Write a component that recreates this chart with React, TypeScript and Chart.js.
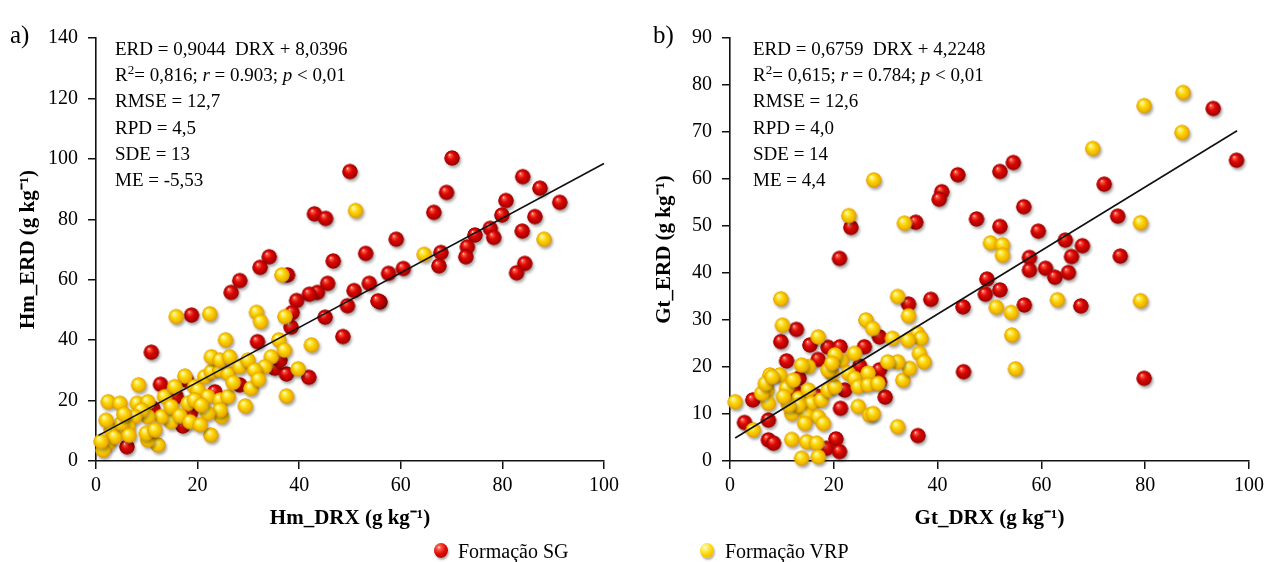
import React, { useEffect, useRef } from 'react';
import { Chart, registerables } from 'chart.js';

Chart.register(...registerables);

const FONT = '"Liberation Serif", "Times New Roman", serif';

// ---------- data ----------
const seriesNames = ['Formação SG', 'Formação VRP'];

// panel a) Hm_DRX (x) vs Hm_ERD (y)
const hmSG: [number, number][] = [
  [84.0, 94.1], [87.4, 90.3], [80.7, 86.2], [91.3, 85.6], [79.9, 81.4], [86.4, 80.9],
  [77.6, 77.0], [78.3, 74.0], [74.6, 74.8], [83.9, 76.1], [84.4, 65.4], [82.8, 62.3],
  [70.1, 100.3], [69.0, 88.9], [66.5, 82.3], [59.1, 73.4], [73.1, 70.9], [72.8, 67.6],
  [67.9, 69.0], [67.5, 64.6], [60.5, 63.7], [57.6, 62.1], [55.9, 52.7], [50.0, 95.8],
  [43.0, 81.8], [45.2, 80.3], [53.1, 68.7], [46.7, 66.2], [34.1, 67.6], [32.3, 64.1],
  [28.3, 59.7], [26.6, 55.8], [37.7, 61.6], [53.8, 58.8], [50.8, 56.4], [55.5, 53.0],
  [49.5, 51.4], [45.6, 58.8], [43.6, 55.8], [42.0, 55.2], [39.5, 53.1], [38.6, 49.1],
  [45.1, 47.6], [18.8, 48.3], [10.9, 36.0], [38.4, 44.3], [48.6, 41.2], [31.8, 39.5],
  [35.2, 30.7], [37.5, 28.8], [41.9, 27.7], [36.2, 33.4], [12.7, 25.4], [18.6, 16.0],
  [17.1, 11.6], [6.1, 4.7], [23.4, 22.9], [28.3, 25.2], [17.8, 26.8], [11.2, 17.4],
  [15.8, 21.3],
];
const hmVRP: [number, number][] = [
  [104.8, 85.1], [105.9, 86.1], [88.2, 73.4], [64.6, 68.4], [51.1, 82.9], [36.6, 61.6],
  [22.4, 48.7], [31.6, 49.2], [37.2, 47.8], [15.8, 47.8], [32.4, 46.1], [36.0, 40.1],
  [42.4, 38.4], [25.5, 40.1], [39.8, 30.5], [37.5, 21.5], [34.5, 34.5], [33.2, 31.2],
  [37.1, 36.7], [29.4, 18.2], [22.6, 8.6], [12.2, 5.3], [8.4, 25.2], [17.5, 28.1],
  [2.4, 19.6], [4.7, 19.1], [8.1, 19.1], [10.2, 19.6], [13.5, 21.3], [15.5, 24.6],
  [19.4, 24.6], [21.4, 27.9], [22.7, 29.6], [24.4, 30.1], [26.0, 29.0], [22.7, 34.5],
  [24.4, 33.4], [26.3, 34.5], [28.3, 31.2], [29.9, 33.4], [31.2, 30.1], [20.1, 23.5],
  [22.0, 21.3], [24.4, 20.2], [26.0, 21.3], [24.7, 14.7], [24.4, 16.9], [22.0, 15.8],
  [14.8, 13.0], [12.9, 14.7], [10.2, 14.7], [8.9, 16.9], [7.6, 14.7], [6.3, 11.4],
  [3.0, 10.3], [2.4, 5.9], [1.4, 3.6], [3.7, 8.0], [5.0, 12.5], [10.2, 7.0],
  [9.9, 9.2], [11.6, 10.3], [14.8, 18.0], [18.1, 19.1], [19.4, 20.2], [20.7, 18.5],
  [1.0, 6.5], [5.5, 15.5], [16.5, 15.0], [18.5, 13.0], [20.5, 12.0], [27.0, 26.0],
  [30.5, 24.0], [32.0, 27.0], [2.0, 13.5], [6.5, 8.5],
];

// panel b) Gt_DRX (x) vs Gt_ERD (y)
const gtSG: [number, number][] = [
  [93.1, 75.0], [97.6, 64.0], [72.1, 58.9], [56.6, 54.1], [74.7, 52.1], [59.4, 48.9],
  [64.6, 47.0], [67.9, 45.8], [65.8, 43.5], [57.7, 43.3], [57.7, 40.6], [75.2, 43.6],
  [60.8, 41.0], [62.6, 39.1], [65.2, 40.1], [67.6, 33.0], [56.7, 33.2], [79.8, 17.6],
  [43.9, 60.9], [54.6, 63.5], [52.0, 61.6], [40.8, 57.3], [40.3, 55.7], [23.3, 49.7],
  [35.8, 50.8], [47.5, 51.5], [52.0, 49.9], [21.1, 43.1], [49.5, 38.7], [49.2, 35.5],
  [52.0, 36.4], [44.9, 32.8], [38.7, 34.4], [34.4, 33.4], [28.8, 26.4], [12.8, 28.0],
  [9.8, 25.4], [15.4, 24.7], [18.9, 24.2], [21.2, 24.3], [25.9, 24.3], [10.9, 21.3],
  [17.0, 21.6], [13.3, 17.6], [16.9, 13.8], [12.5, 14.7], [22.1, 15.1], [25.0, 20.2],
  [28.8, 19.4], [28.8, 16.9], [29.9, 13.6], [21.3, 11.2], [4.4, 13.0], [2.8, 8.2],
  [7.4, 8.7], [7.4, 4.5], [8.4, 3.8], [20.4, 4.7], [18.6, 2.7], [21.1, 2.0],
  [36.2, 5.4], [45.0, 19.0],
];
const gtVRP: [number, number][] = [
  [87.3, 78.4], [79.8, 75.6], [87.1, 69.9], [69.9, 66.5], [79.1, 50.7], [63.1, 34.3],
  [79.1, 34.1], [27.7, 59.8], [22.9, 52.2], [33.6, 50.6], [50.2, 46.4], [52.5, 46.0],
  [52.5, 43.8], [51.3, 32.7], [54.2, 31.6], [32.3, 35.0], [34.4, 30.9], [26.2, 30.0],
  [27.5, 28.2], [54.3, 26.8], [36.1, 27.2], [36.8, 26.1], [31.3, 26.1], [9.8, 34.5],
  [10.1, 28.9], [17.0, 26.4], [34.3, 25.7], [36.5, 22.9], [37.4, 21.1], [33.3, 17.2],
  [34.6, 19.7], [32.3, 21.1], [30.4, 21.1], [15.1, 20.1], [13.8, 20.4], [7.7, 18.3],
  [9.6, 18.3], [7.1, 15.1], [24.7, 11.6], [26.9, 9.8], [27.6, 10.1], [1.0, 12.6],
  [4.5, 6.6], [11.9, 4.6], [14.8, 4.1], [16.7, 3.8], [13.8, 0.6], [17.0, 0.9],
  [32.3, 7.3], [10.9, 15.5], [12.2, 17.2], [13.2, 13.3], [15.1, 15.1], [15.7, 12.3],
  [17.6, 13.0], [18.9, 15.1], [20.2, 15.8], [19.6, 18.7], [18.9, 19.4], [21.5, 21.5],
  [22.8, 18.7], [24.0, 17.6], [24.7, 15.8], [26.6, 18.7], [26.6, 16.2], [28.5, 16.5],
  [11.9, 10.1], [14.8, 9.8], [17.0, 9.4], [18.0, 8.0], [14.4, 8.0], [13.2, 11.9],
  [11.3, 11.9], [10.3, 13.7], [7.4, 12.3], [6.1, 14.4], [6.8, 16.5], [8.1, 17.9],
  [24.0, 22.9], [20.2, 22.6], [19.6, 20.8], [55.0, 19.6],
];

// fitted lines (from the equations printed on the chart) and their x extent
const hmFit = [0.9044, 8.0396];
const hmFitX = [0.5, 100];
const gtFit = [0.6759, 4.2248];
const gtFitX = [1.0, 97.7];

// axis ranges / tick steps
const hmXTicks = [0, 100, 20];
const hmYTicks = [0, 140, 20];
const gtXTicks = [0, 100, 20];
const gtYTicks = [0, 90, 10];

const hmTitles = ['Hm_DRX (g kg⁻¹)', 'Hm_ERD (g kg⁻¹)'];
const gtTitles = ['Gt_DRX (g kg⁻¹)', 'Gt_ERD (g kg⁻¹)'];

type Seg = { t: string; i?: boolean; sup?: boolean };
const hmNotes: Seg[][] = [
  [{ t: 'ERD = 0,9044  DRX + 8,0396' }],
  [{ t: 'R' }, { t: '2', sup: true }, { t: '= 0,816; ' }, { t: 'r', i: true }, { t: ' = 0.903; ' }, { t: 'p', i: true }, { t: ' < 0,01' }],
  [{ t: 'RMSE = 12,7' }],
  [{ t: 'RPD = 4,5' }],
  [{ t: 'SDE = 13' }],
  [{ t: 'ME = -5,53' }],
];
const gtNotes: Seg[][] = [
  [{ t: 'ERD = 0,6759  DRX + 4,2248' }],
  [{ t: 'R' }, { t: '2', sup: true }, { t: '= 0,615; ' }, { t: 'r', i: true }, { t: ' = 0.784; ' }, { t: 'p', i: true }, { t: ' < 0,01' }],
  [{ t: 'RMSE = 12,6' }],
  [{ t: 'RPD = 4,0' }],
  [{ t: 'SDE = 14' }],
  [{ t: 'ME = 4,4' }],
];

// ---------- sphere sprites ----------
const BALL_STOPS: Record<string, [number, string][]> = {
  red: [[0, '#ffe2dc'], [0.12, '#ff5a48'], [0.45, '#dc0a05'], [0.8, '#b80000'], [1, '#8c0000']],
  yellow: [[0, '#fffbe6'], [0.14, '#fff27a'], [0.5, '#fad400'], [0.82, '#f0b400'], [1, '#d89400']],
};
const spriteCache: Record<string, HTMLCanvasElement> = {};
function ball(kind: 'red' | 'yellow'): HTMLCanvasElement {
  if (spriteCache[kind]) return spriteCache[kind];
  const size = 26;
  const c = document.createElement('canvas');
  c.width = size;
  c.height = size;
  const ctx = c.getContext('2d')!;
  const cx = size / 2;
  const cy = size / 2;
  const r = 7.6;
  ctx.save();
  ctx.shadowColor = 'rgba(0,0,0,0.35)';
  ctx.shadowOffsetX = 1.5;
  ctx.shadowOffsetY = 2.5;
  ctx.shadowBlur = 3;
  ctx.beginPath();
  ctx.arc(cx, cy, r, 0, Math.PI * 2);
  ctx.fillStyle = BALL_STOPS[kind][3][1];
  ctx.fill();
  ctx.restore();
  const g = ctx.createRadialGradient(cx - 2.6, cy - 3.2, 0.3, cx, cy, r);
  BALL_STOPS[kind].forEach(([o, col]) => g.addColorStop(o, col));
  ctx.beginPath();
  ctx.arc(cx, cy, r, 0, Math.PI * 2);
  ctx.fillStyle = g;
  ctx.fill();
  spriteCache[kind] = c;
  return c;
}

// ---------- notes plugin ----------
const notesPlugin = {
  id: 'notes',
  afterDraw(chart: any, _args: any, opts: any) {
    const { ctx, chartArea } = chart;
    ctx.save();
    ctx.fillStyle = '#000';
    ctx.textBaseline = 'middle';
    ctx.textAlign = 'left';
    ctx.font = `25px ${FONT}`;
    ctx.fillText(opts.letter, opts.letterX, opts.letterY);
    (opts.lines as Seg[][]).forEach((line, i) => {
      let x = chartArea.left + opts.dx;
      const y = chartArea.top + opts.dy + i * opts.step;
      for (const seg of line) {
        const size = seg.sup ? 13 : 19;
        ctx.font = `${seg.i ? 'italic ' : ''}${size}px ${FONT}`;
        ctx.fillText(seg.t, x, seg.sup ? y - 6 : y);
        x += ctx.measureText(seg.t).width;
      }
    });
    ctx.restore();
  },
};

type PanelProps = {
  left: number;
  width: number;
  height: number;
  sg: [number, number][];
  vrp: [number, number][];
  fit: number[];
  fitX: number[];
  xTicks: number[];
  yTicks: number[];
  titles: string[];
  notes: Seg[][];
  letter: string;
  letterX: number;
  pad: { left: number; right: number; top: number; bottom: number };
  yWidth: number;
  xHeight: number;
  noteDx: number;
};

function Panel(p: PanelProps) {
  const ref = useRef<HTMLCanvasElement>(null);
  useEffect(() => {
    const axisCommon = (title: string) => ({
      type: 'linear' as const,
      grid: {
        display: true,
        drawOnChartArea: false,
        drawTicks: true,
        tickLength: 8,
        color: '#111',
        lineWidth: 1.5,
      },
      border: { display: true, color: '#111', width: 1.6 },
      ticks: {
        color: '#000',
        font: { family: FONT, size: 20 },
        autoSkip: false,
        maxRotation: 0,
      },
      title: {
        display: true,
        text: title,
        color: '#000',
        font: { family: FONT, size: 21, weight: 'bold' as const },
        padding: 0,
      },
    });
    const xAxis: any = axisCommon(p.titles[0]);
    xAxis.min = p.xTicks[0];
    xAxis.max = p.xTicks[1];
    xAxis.ticks.stepSize = p.xTicks[2];
    xAxis.ticks.padding = 5;
    xAxis.afterFit = (s: any) => {
      s.height = p.xHeight;
    };
    const yAxis: any = axisCommon(p.titles[1]);
    yAxis.min = p.yTicks[0];
    yAxis.max = p.yTicks[1];
    yAxis.ticks.stepSize = p.yTicks[2];
    yAxis.ticks.padding = 10;
    yAxis.afterFit = (s: any) => {
      s.width = p.yWidth;
    };

    const chart = new Chart(ref.current!, {
      type: 'scatter',
      data: {
        datasets: [
          {
            label: 'fit',
            data: p.fitX.map((x) => ({ x, y: p.fit[0] * x + p.fit[1] })),
            showLine: true,
            borderColor: '#111',
            borderWidth: 1.6,
            pointRadius: 0,
            clip: false,
          } as any,
          {
            label: seriesNames[1],
            data: p.vrp.map(([x, y]) => ({ x, y })),
            pointStyle: ball('yellow'),
            pointRadius: 7.5,
            clip: false,
          },
          {
            label: seriesNames[0],
            data: p.sg.map(([x, y]) => ({ x, y })),
            pointStyle: ball('red'),
            pointRadius: 7.5,
            clip: false,
          },
        ],
      },
      options: {
        responsive: false,
        animation: false,
        events: [],
        layout: { padding: p.pad },
        scales: { x: xAxis, y: yAxis },
        plugins: {
          legend: { display: false },
          tooltip: { enabled: false },
          notes: {
            letter: p.letter,
            letterX: p.letterX,
            letterY: 36,
            lines: p.notes,
            dx: p.noteDx,
            dy: 12,
            step: 26.2,
          },
        } as any,
      },
      plugins: [notesPlugin],
    });
    return () => chart.destroy();
  }, []);
  return (
    <canvas
      ref={ref}
      width={p.width}
      height={p.height}
      style={{ position: 'absolute', left: p.left, top: 0, width: p.width, height: p.height }}
    />
  );
}

const legendBall = (kind: 'red' | 'yellow'): React.CSSProperties => ({
  position: 'absolute',
  width: 14,
  height: 15,
  borderRadius: '50%',
  background:
    kind === 'red'
      ? 'radial-gradient(circle at 36% 30%, #ffe2dc 0%, #ff5a48 14%, #dc0a05 48%, #b80000 80%, #8c0000 100%)'
      : 'radial-gradient(circle at 36% 30%, #fffbe6 0%, #fff27a 16%, #fad400 52%, #f0b400 82%, #d89400 100%)',
  boxShadow: '1px 2px 2px rgba(0,0,0,0.3)',
});

export default function App() {
  return (
    <div
      style={{
        position: 'absolute',
        left: 0,
        top: 0,
        width: 1269,
        height: 562,
        background: '#fff',
        overflow: 'hidden',
      }}
    >
      <Panel
        left={0}
        width={640}
        height={540}
        sg={hmSG}
        vrp={hmVRP}
        fit={hmFit}
        fitX={hmFitX}
        xTicks={hmXTicks}
        yTicks={hmYTicks}
        titles={hmTitles}
        notes={hmNotes}
        letter="a)"
        letterX={10}
        pad={{ left: 16, right: 36, top: 38, bottom: 9 }}
        yWidth={80}
        xHeight={70}
        noteDx={19}
      />
      <Panel
        left={640}
        width={629}
        height={540}
        sg={gtSG}
        vrp={gtVRP}
        fit={gtFit}
        fitX={gtFitX}
        xTicks={gtXTicks}
        yTicks={gtYTicks}
        titles={gtTitles}
        notes={gtNotes}
        letter="b)"
        letterX={13}
        pad={{ left: 12, right: 17, top: 38, bottom: 9 }}
        yWidth={78}
        xHeight={70}
        noteDx={23}
      />
      <div style={{ position: 'absolute', left: 0, top: 539, width: 1269, height: 24, fontFamily: FONT, fontSize: 20, lineHeight: '24px', color: '#000' }}>
        <span style={{ ...legendBall('red'), left: 434, top: 4 }} />
        <span style={{ position: 'absolute', left: 458, top: 0, whiteSpace: 'pre' }}>{seriesNames[0]}</span>
        <span style={{ ...legendBall('yellow'), left: 700, top: 4 }} />
        <span style={{ position: 'absolute', left: 725, top: 0, whiteSpace: 'pre' }}>{seriesNames[1]}</span>
      </div>
    </div>
  );
}
